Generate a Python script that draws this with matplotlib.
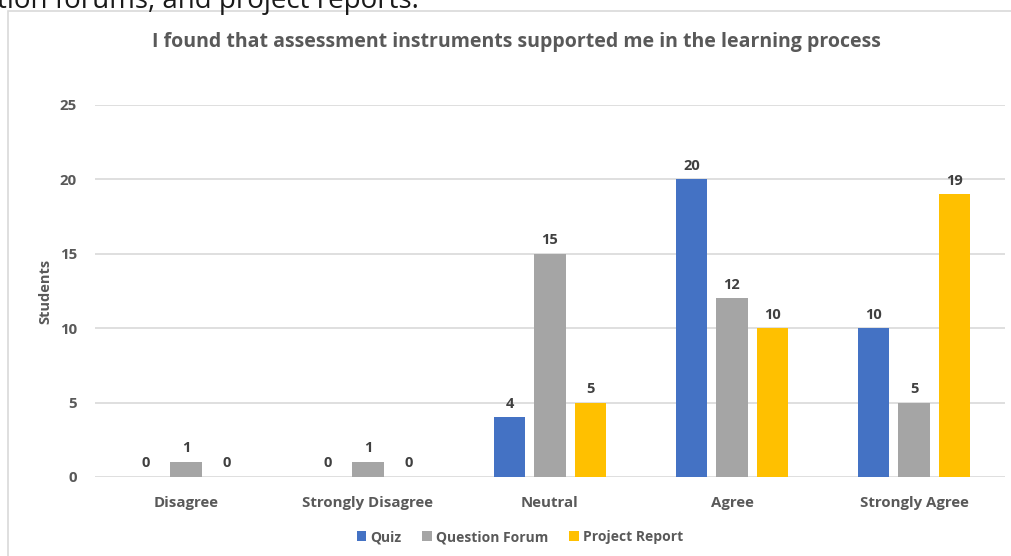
import matplotlib
matplotlib.use("Agg")
import matplotlib.pyplot as plt
import numpy as np

categories = ["Disagree", "Strongly Disagree", "Neutral", "Agree", "Strongly Agree"]
series_names = ["Quiz", "Question Forum", "Project Report"]
quiz = [0, 0, 4, 20, 10]
forum = [1, 1, 15, 12, 5]
report = [0, 0, 5, 10, 19]
yticks = [0, 5, 10, 15, 20, 25]
title = "I found that assessment instruments supported me in the learning process"
ylabel = "Students"
top_text = "tion forums, and project reports."

colors = ["#4472C4", "#A5A5A5", "#FFC000"]
txt_color = "#595959"
lab_color = "#404040"
FONT = "Open Sans"

W, H = 1011, 556
fig = plt.figure(figsize=(W / 100, H / 100), dpi=100)

# outer chart frame (partially off-canvas)
frame = plt.Rectangle((8 / W, -0.1), 1.2, 1 - 11 / H + 0.1, transform=fig.transFigure,
                      fill=False, edgecolor="#d9d9d9", linewidth=1.2)
fig.add_artist(frame)

# clipped document text at top
fig.text(-3 / W, 1 - 8 / H, top_text, fontsize=20, family=FONT, color="#1a1a1a",
         ha="left", va="baseline")

ax = fig.add_axes([95 / W, 1 - 477 / H, (1005 - 95) / W, (477 - 105) / H])
x = np.arange(len(categories))
step = 0.2225
width = 0.172
for i, (vals, c, name) in enumerate(zip([quiz, forum, report], colors, series_names)):
    pos = x + (i - 1) * step
    ax.bar(pos, vals, width=width, color=c, label=name, zorder=3)
    for p, v in zip(pos, vals):
        ax.text(p, v + 0.45, str(v), ha="center", va="bottom", fontsize=10.5,
                fontweight="bold", family=FONT, color=lab_color)

ax.set_xlim(-0.5, len(categories) - 0.5)
ax.set_ylim(0, 25)
ax.set_yticks(yticks)
ax.yaxis.grid(True, color="#d9d9d9", linewidth=1.2, zorder=0)
ax.set_axisbelow(True)
for s in ["top", "right", "left", "bottom"]:
    ax.spines[s].set_visible(False)
ax.tick_params(axis="both", length=0)
ax.tick_params(axis="y", pad=13)
ax.tick_params(axis="x", pad=14)
ax.set_xticks(x)
ax.set_xticklabels(categories)
for lbl in ax.get_xticklabels() + ax.get_yticklabels():
    lbl.set_fontsize(10.8)
    lbl.set_fontweight("bold")
    lbl.set_family(FONT)
    lbl.set_color(txt_color)

ax.set_ylabel(ylabel, fontsize=10.5, fontweight="bold", family=FONT, color=txt_color, labelpad=5)

fig.text(516 / W, 1 - 42 / H, title, ha="center", va="center", fontsize=14,
         fontweight="bold", family=FONT, color=txt_color)

leg = fig.legend(loc="center", bbox_to_anchor=(520 / W, 1 - 537 / H), ncol=3, frameon=False,
                 prop={"family": FONT, "size": 10, "weight": "bold"},
                 handlelength=0.7, handleheight=0.7, handletextpad=0.3, columnspacing=1.5)
for t in leg.get_texts():
    t.set_color(txt_color)

fig.savefig("out.png", dpi=100)
